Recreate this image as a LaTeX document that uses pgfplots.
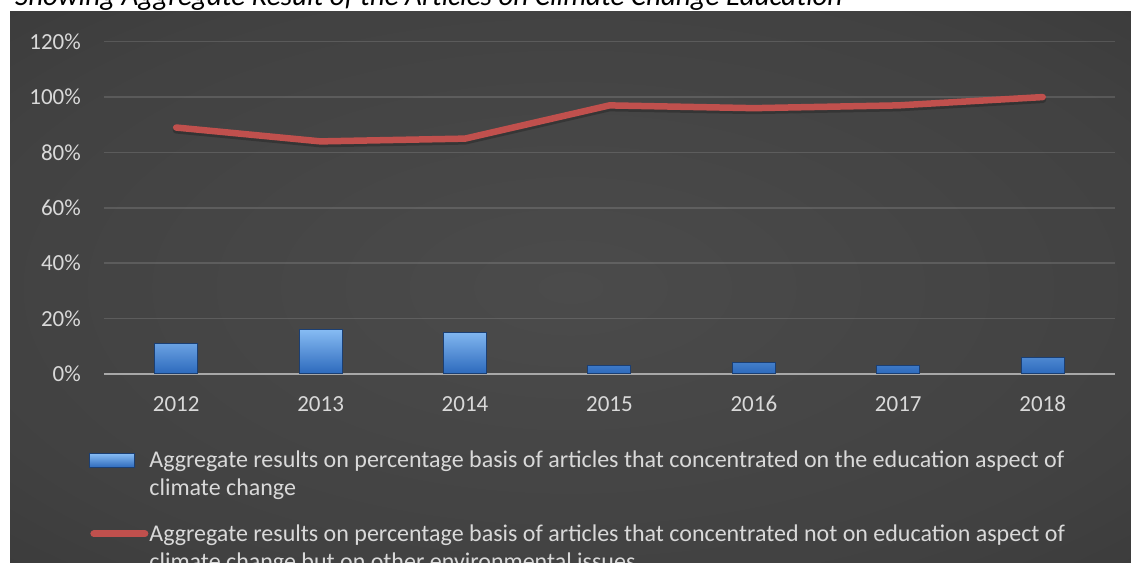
\documentclass[border=0pt]{standalone}
\usepackage{fontspec}
\setmainfont{Carlito}
\usepackage{pgfplots}
\usepackage{pgfplotstable}
\pgfplotsset{compat=1.18}

\definecolor{bgmid}{HTML}{4B4B4B}
\definecolor{bgedge}{HTML}{242424}
\definecolor{txt}{HTML}{D9D9D9}
\definecolor{linered}{HTML}{C0504D}
\definecolor{bartop}{HTML}{86BBF3}
\definecolor{barmid}{HTML}{4286DA}
\definecolor{barbot}{HTML}{2C69BC}
\definecolor{barline}{HTML}{1B3F73}
\definecolor{zeroline}{HTML}{A8A8A8}

% soft glow in the middle of the dark panel
\pgfdeclareradialshading{panelglow}{\pgfpoint{0bp}{0bp}}{%
  color(0bp)=(bgmid); color(28bp)=(bgmid!75!bgedge); color(71bp)=(bgedge)}

% share of articles per year (percent)
\pgfplotstableread{
x year edu other
0 2012 11 89
1 2013 16 84
2 2014 15 85
3 2015 3  97
4 2016 4  96
5 2017 3  97
6 2018 6  100
}\articles

\begin{document}
\begin{tikzpicture}
\useasboundingbox (0,0) rectangle (1131bp,563bp);
\clip (0,0) rectangle (1131bp,563bp);
\fill[white] (0,0) rectangle (1131bp,563bp);
\node[anchor=base west, inner sep=0pt, font=\fontsize{29bp}{34bp}\selectfont\itshape]
  at (15bp,557bp) {Showing Aggregate Result of the Articles on Climate Change Education};
\shade[shading=panelglow] (10bp,0) rectangle (1131bp,551bp);

\begin{axis}[
  scale only axis,
  width=1011bp, height=332.3bp,
  at={(104bp,189bp)}, anchor=south west,
  xmin=-0.5, xmax=6.5, ymin=0, ymax=120,
  xtick={0,...,6},
  xticklabels={2012,2013,2014,2015,2016,2017,2018},
  ytick={0,20,...,120},
  yticklabel={\pgfmathprintnumber{\tick}\%},
  /pgf/number format/assume math mode=true,
  separate axis lines,
  axis lines=left,
  x axis line style={-, draw=zeroline, line width=2.5bp},
  y axis line style={-, draw=none},
  major tick length=0pt,
  ymajorgrids,
  grid style={draw=white, draw opacity=0.13, line width=1.5bp},
  tick label style={text=txt, font=\fontsize{23bp}{28bp}\selectfont},
  yticklabel style={anchor=east, inner sep=0pt, xshift=-23bp},
  xticklabel style={anchor=base, inner sep=0pt, yshift=-37.7bp},
  legend style={
    at={(-0.01484,-0.2257)}, anchor=north west,
    draw=none, fill=none, inner sep=0pt, outer sep=0pt,
    text=txt, font=\fontsize{24bp}{28bp}\selectfont,
    cells={anchor=base west},
    row sep=52bp, column sep=-1bp,
  },
]
\addplot[ybar, bar width=43bp, bar shift=0pt, draw=barline, line width=1bp,
  top color=bartop, middle color=barmid, bottom color=barbot,
  legend image code/.code={
    \draw[draw=barline, line width=0.8bp, top color=bartop, middle color=barmid,
      bottom color=barbot] (0bp,0bp) rectangle (45bp,14bp);
    \path[draw=none, fill=none, shade=false] (0bp,0bp) -- (59bp,0bp);
  }]
  table[x=x, y=edu] {\articles};
\addlegendentry{\parbox[t]{960bp}{\raggedright Aggregate results on percentage basis of articles that concentrated on the education aspect of\\climate change}}

% soft shadow under the line
\addplot[forget plot, draw=black, draw opacity=0.22, line width=7bp,
  line cap=round, line join=round, transform canvas={yshift=-2.5bp}]
  table[x=x, y=other] {\articles};
\addplot[draw=linered, line width=6.5bp, line cap=round, line join=round,
  legend image code/.code={
    \draw[draw=linered, line width=7bp, line cap=round] (4.5bp,8bp) -- (55.5bp,8bp);
    \path[draw=none] (0bp,0bp) -- (59bp,0bp);
  }]
  table[x=x, y=other] {\articles};
\addlegendentry{\parbox[t]{960bp}{\raggedright Aggregate results on percentage basis of articles that concentrated not on education aspect of\\climate change but on other environmental issues}}
\end{axis}
\end{tikzpicture}
\end{document}
